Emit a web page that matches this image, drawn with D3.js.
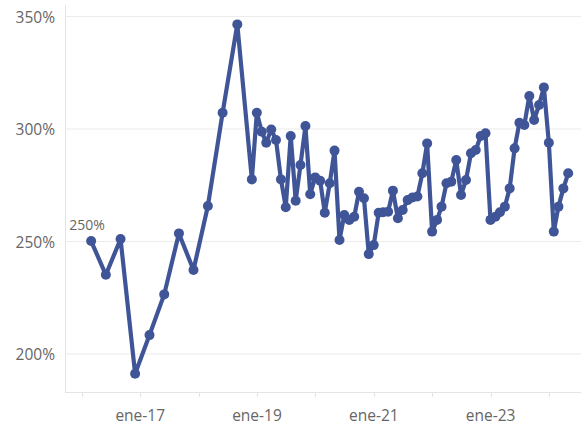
<!DOCTYPE html>
<html>
<head>
<meta charset="utf-8">
<script src="https://cdn.jsdelivr.net/npm/d3@7"></script>
<style>
  html, body { margin: 0; padding: 0; background: #fff; }
  svg { display: block; }
  text { font-family: "Open Sans", "Noto Sans", sans-serif; }
</style>
</head>
<body>
<svg id="chart" width="581" height="427"></svg>
<script>
// Month (end of month) of each observation
const months = [
  "2016-02","2016-05","2016-08","2016-11",
  "2017-02","2017-05","2017-08","2017-11",
  "2018-02","2018-05","2018-08","2018-11","2018-12",
  "2019-01","2019-02","2019-03","2019-04","2019-05","2019-06","2019-07","2019-08","2019-09","2019-10","2019-11","2019-12",
  "2020-01","2020-02","2020-03","2020-04","2020-05","2020-06","2020-07","2020-08","2020-09","2020-10","2020-11","2020-12",
  "2021-01","2021-02","2021-03","2021-04","2021-05","2021-06","2021-07","2021-08","2021-09","2021-10","2021-11","2021-12",
  "2022-01","2022-02","2022-03","2022-04","2022-05","2022-06","2022-07","2022-08","2022-09","2022-10","2022-11","2022-12",
  "2023-01","2023-02","2023-03","2023-04","2023-05","2023-06","2023-07","2023-08","2023-09","2023-10","2023-11","2023-12",
  "2024-01","2024-02","2024-03","2024-04"
];
// Values in percent
const values = [
  250.2, 235.2, 251.1, 191.2,
  208.4, 226.5, 253.6, 237.3,
  265.8, 307.2, 346.5, 277.6, 307.2,
  298.8, 293.9, 299.8, 295.1, 277.6, 265.2, 296.9, 268.1, 284.0, 301.3, 271.0, 278.5,
  277.0, 262.8, 275.9, 290.4, 250.7, 261.8, 259.6, 261.0, 272.1, 269.2, 244.4, 248.4,
  262.8, 263.0, 263.2, 272.6, 260.3, 264.0, 268.4, 269.6, 270.0, 280.3, 293.6, 254.4,
  259.6, 265.5, 275.9, 276.6, 286.2, 270.7, 277.3, 289.2, 290.7, 296.9, 298.1, 259.6,
  261.0, 263.0, 265.5, 273.6, 291.4, 302.8, 301.8, 314.7, 304.0, 310.7, 318.5, 293.9,
  254.4, 265.5, 273.6, 280.3
];
const yTicks = [200, 250, 300, 350];
const xTickYears = ["2016","2017","2018","2019","2020","2021","2022","2023","2024"];
const xLabelYears = ["2017","2019","2021","2023"];
const xLabels = ["ene-17","ene-19","ene-21","ene-23"];
const firstLabel = "250%";

const svg = d3.select("#chart");
const parseMonth = d3.timeParse("%Y-%m");
const parseYear = d3.timeParse("%Y");
// end-of-month dates
const dates = months.map(m => d3.timeDay.offset(d3.timeMonth.offset(parseMonth(m), 1), -1));
const data = dates.map((d, i) => ({ date: d, value: values[i] }));

const plotLeft = 65, plotRight = 581, plotTop = 5, plotBottom = 392;

const x = d3.scaleTime()
  .domain([parseYear("2016"), parseYear("2024")])
  .range([81.7, 549]);
const y = d3.scaleLinear()
  .domain([200, 350])
  .range([354, 16.5]);

// gridlines
svg.append("g").selectAll("line").data(yTicks).join("line")
  .attr("x1", plotLeft).attr("x2", plotRight)
  .attr("y1", d => y(d)).attr("y2", d => y(d))
  .attr("stroke", "#ececec").attr("stroke-width", 1.2);

// axes lines
svg.append("line").attr("x1", plotLeft + 0.5).attr("x2", plotLeft + 0.5)
  .attr("y1", plotTop).attr("y2", plotBottom).attr("stroke", "#e4e4e4");
svg.append("line").attr("x1", plotLeft).attr("x2", plotRight)
  .attr("y1", plotBottom + 0.5).attr("y2", plotBottom + 0.5).attr("stroke", "#e4e4e4");

// y labels
svg.append("g").selectAll("text").data(yTicks).join("text")
  .attr("x", 55).attr("y", d => y(d))
  .attr("text-anchor", "end").attr("dominant-baseline", "central")
  .attr("fill", "#666666").attr("font-size", 15.5)
  .text(d => d + "%");

// x ticks
svg.append("g").selectAll("line").data(xTickYears.map(parseYear)).join("line")
  .attr("x1", d => Math.round(x(d)) + 0.5).attr("x2", d => Math.round(x(d)) + 0.5)
  .attr("y1", plotBottom).attr("y2", plotBottom + 5)
  .attr("stroke", "#e4e4e4");
svg.append("g").selectAll("text").data(xLabelYears.map(parseYear)).join("text")
  .attr("x", d => x(d)).attr("y", 415)
  .attr("text-anchor", "middle").attr("dominant-baseline", "central")
  .attr("fill", "#666666").attr("font-size", 15.5)
  .text((d, i) => xLabels[i]);

// line
const color = "#3f5597";
svg.append("path").datum(data)
  .attr("fill", "none").attr("stroke", color).attr("stroke-width", 4.2)
  .attr("stroke-linejoin", "round")
  .attr("d", d3.line().x(d => x(d.date)).y(d => y(d.value)));
svg.append("g").selectAll("circle").data(data).join("circle")
  .attr("cx", d => x(d.date)).attr("cy", d => y(d.value)).attr("r", 5)
  .attr("fill", color);

// first point label
svg.append("text")
  .attr("x", x(data[0].date) - 4).attr("y", y(data[0].value) - 17)
  .attr("text-anchor", "middle").attr("dominant-baseline", "central")
  .attr("fill", "#666666").attr("font-size", 14)
  .text(firstLabel);
</script>
</body>
</html>
